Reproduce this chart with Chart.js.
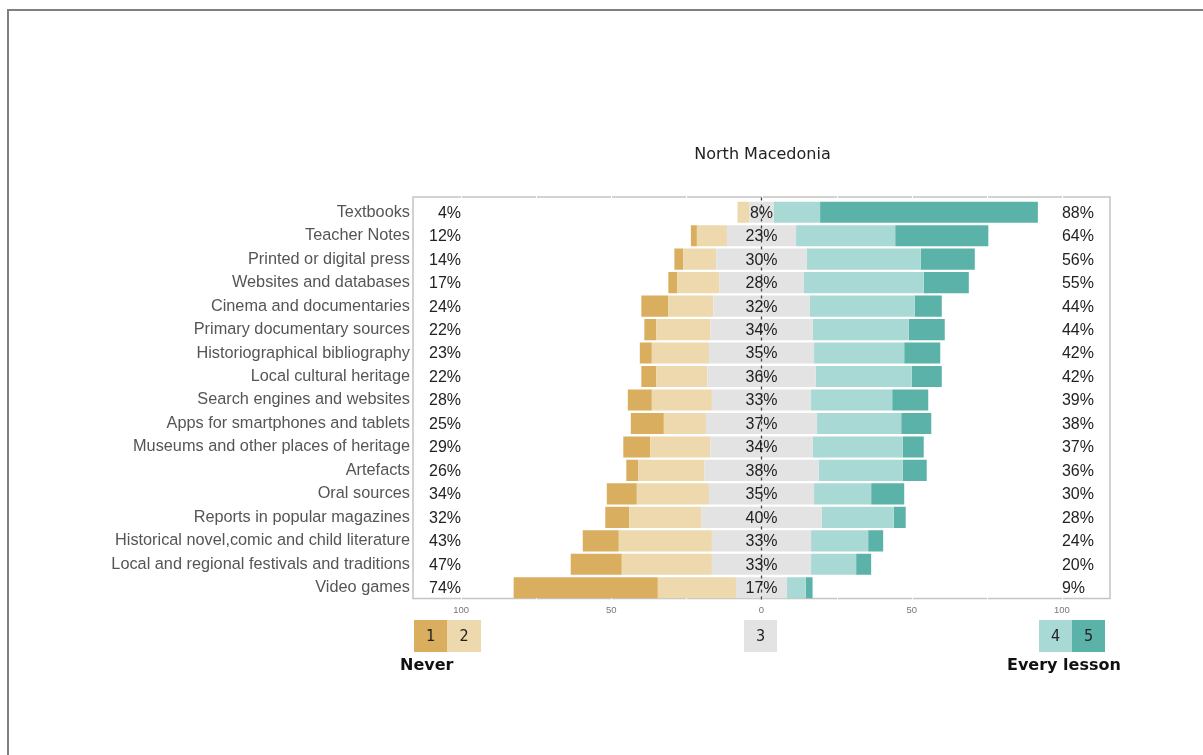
<!DOCTYPE html>
<html>
<head>
<meta charset="utf-8">
<script src="https://cdn.jsdelivr.net/npm/chart.js@4"></script>
<style>
  html, body { margin: 0; padding: 0; background: #fff; }
  #wrap { position: relative; width: 1203px; height: 755px; overflow: hidden; }
  #frame { position: absolute; left: 7px; top: 9px; width: 1300px; height: 900px;
           border-top: 2px solid #808080; border-left: 2px solid #808080; }
  #chart { position: absolute; left: 0; top: 0; }
  #title { position: absolute; left: 0; width: 1525px; top: 144px; text-align: center;
           font: 16px "DejaVu Sans", sans-serif; color: #222; }
  .key { position: absolute; top: 620px; height: 32px; text-align: center;
         font: 16px "DejaVu Sans Condensed", "DejaVu Sans", sans-serif; line-height: 32px; color: #222; }
  .end { position: absolute; top: 655px; font: bold 16px "DejaVu Sans", sans-serif; color: #111; }
</style>
</head>
<body>
<div id="wrap">
  <div id="frame"></div>
  <canvas id="chart" width="1203" height="755"></canvas>
  <div id="title">North Macedonia</div>
</div>
<script>
const categories = [
  "Textbooks", "Teacher Notes", "Printed or digital press", "Websites and databases",
  "Cinema and documentaries", "Primary documentary sources", "Historiographical bibliography",
  "Local cultural heritage", "Search engines and websites", "Apps for smartphones and tablets",
  "Museums and other places of heritage", "Artefacts", "Oral sources",
  "Reports in popular magazines", "Historical novel,comic and child literature",
  "Local and regional festivals and traditions", "Video games"
];
// answers 1..5 (1 = never, 5 = every lesson), in % of teachers
const never   = [0, 2, 3, 3, 9, 4, 4, 5, 8, 11, 9, 4, 10, 8, 12, 17, 48];
const rarely  = [4, 10, 11, 14, 15, 18, 19, 17, 20, 14, 20, 22, 24, 24, 31, 30, 26];
const neutral = [8, 23, 30, 28, 32, 34, 35, 36, 33, 37, 34, 38, 35, 40, 33, 33, 17];
const often   = [15.5, 33, 38, 40, 35, 32, 30, 32, 27, 28, 30, 28, 19, 24, 19, 15, 6.2];
const always  = [72.5, 31, 18, 15, 9, 12, 12, 10, 12, 10, 7, 8, 11, 4, 5, 5, 2.3];

// printed percentages
const leftPct  = [4, 12, 14, 17, 24, 22, 23, 22, 28, 25, 29, 26, 34, 32, 43, 47, 74];
const midPct   = [8, 23, 30, 28, 32, 34, 35, 36, 33, 37, 34, 38, 35, 40, 33, 33, 17];
const rightPct = [88, 64, 56, 55, 44, 44, 42, 42, 39, 38, 37, 36, 30, 28, 24, 20, 9];

const gridValues = [-100, -75, -50, -25, 0, 25, 50, 75, 100];
const tickValues = [-100, -50, 0, 50, 100];
const tickText   = ["100", "50", "0", "50", "100"];

const legendKeys = ["1", "2", "3", "4", "5"];
const legendEnds = ["Never", "Every lesson"];

const colors = ["#D9AE5E", "#EDD9AD", "#E3E3E3", "#A9D9D4", "#5BB2A8"];

const half = neutral.map(v => v / 2);

const decor = {
  id: "decor",
  beforeDraw(chart) {
    // plot frame, a bit taller than the rows, with white grid gaps
    const { ctx, chartArea: a, scales: { x } } = chart;
    const top = a.top - 3.5, bottom = a.bottom - 1;
    ctx.save();
    ctx.strokeStyle = "#c4c4c4";
    ctx.lineWidth = 1.5;
    ctx.strokeRect(a.left, top, a.right - a.left, bottom - top);
    ctx.strokeStyle = "#fff";
    ctx.lineWidth = 1;
    gridValues.forEach(v => {
      const px = Math.round(x.getPixelForValue(v)) + 0.5;
      ctx.beginPath();
      ctx.moveTo(px, top - 1);
      ctx.lineTo(px, bottom + 1);
      ctx.stroke();
    });
    ctx.restore();
  },
  afterDatasetsDraw(chart) {
    const { ctx, chartArea: a, scales: { x, y } } = chart;
    const x0 = x.getPixelForValue(0);
    ctx.save();
    // dashed zero line
    ctx.strokeStyle = "#444";
    ctx.lineWidth = 1.3;
    ctx.setLineDash([3, 4]);
    ctx.beginPath();
    ctx.moveTo(x0, a.top - 3);
    ctx.lineTo(x0, a.bottom + 4);
    ctx.stroke();
    ctx.setLineDash([]);

    ctx.font = '16px "Liberation Sans", Arial, sans-serif';
    ctx.fillStyle = "#222";
    ctx.textBaseline = "middle";
    categories.forEach((c, i) => {
      const yy = y.getPixelForValue(i) + 1;
      ctx.textAlign = "right";
      ctx.fillText(leftPct[i] + "%", x.getPixelForValue(-100), yy);
      ctx.textAlign = "center";
      ctx.fillText(midPct[i] + "%", x0, yy);
      ctx.textAlign = "left";
      ctx.fillText(rightPct[i] + "%", x.getPixelForValue(100), yy);
    });
    ctx.restore();
  }
};

const ctx = document.getElementById("chart").getContext("2d");
new Chart(ctx, {
  type: "bar",
  data: {
    labels: categories,
    datasets: [
      { label: "3", data: half.map(v => -v), backgroundColor: colors[2] },
      { label: "2", data: rarely.map(v => -v), backgroundColor: colors[1] },
      { label: "1", data: never.map(v => -v), backgroundColor: colors[0] },
      { label: "3", data: half, backgroundColor: colors[2] },
      { label: "4", data: often, backgroundColor: colors[3] },
      { label: "5", data: always, backgroundColor: colors[4] },
    ],
  },
  options: {
    indexAxis: "y",
    responsive: false,
    animation: false,
    layout: { padding: { top: 200.5, right: 93, bottom: 137.5, left: 0 } },
    datasets: { bar: { categoryPercentage: 1, barPercentage: 0.9, borderWidth: 0 } },
    plugins: {
      legend: { display: false },
      tooltip: { enabled: false },
    },
    scales: {
      x: {
        stacked: true,
        min: -116,
        max: 116,
        afterBuildTicks: (s) => { s.ticks = gridValues.map(v => ({ value: v })); },
        afterFit: (s) => { s.height = 18; },
        ticks: {
          autoSkip: false,
          maxRotation: 0,
          padding: 5,
          color: "#777",
          font: { family: "Liberation Sans", size: 9.5 },
          callback: (v) => {
            const i = tickValues.indexOf(v);
            return i >= 0 ? tickText[i] : "";
          },
        },
        grid: { display: false, drawTicks: false },
        border: { display: false },
      },
      y: {
        stacked: true,
        afterFit: (s) => { s.width = 413; },
        ticks: {
          padding: 3,
          color: "#555",
          font: { family: "Liberation Sans", size: 16.3 },
        },
        grid: { display: false, drawTicks: false },
        border: { display: false },
      },
    },
  },
  plugins: [decor],
});

// legend keys under the plot
const wrap = document.getElementById("wrap");
const keyPos = [[414, 33], [447, 34], [744, 33], [1039, 33], [1072, 33]];
legendKeys.forEach((k, i) => {
  const d = document.createElement("div");
  d.className = "key";
  d.textContent = k;
  d.style.left = keyPos[i][0] + "px";
  d.style.width = keyPos[i][1] + "px";
  d.style.background = colors[i];
  wrap.appendChild(d);
});
const endPos = [400, 1007];
legendEnds.forEach((t, i) => {
  const d = document.createElement("div");
  d.className = "end";
  d.textContent = t;
  d.style.left = endPos[i] + "px";
  wrap.appendChild(d);
});
</script>
</body>
</html>
